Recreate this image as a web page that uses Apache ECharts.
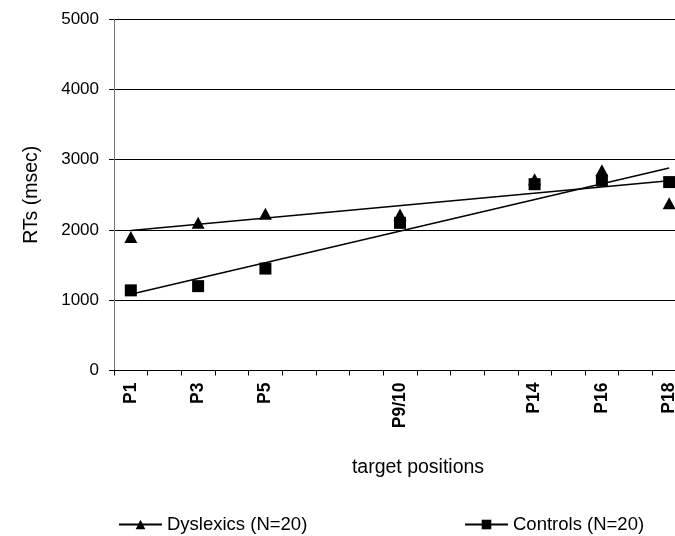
<!DOCTYPE html>
<html>
<head>
<meta charset="utf-8">
<script src="https://cdn.jsdelivr.net/npm/echarts@6/dist/echarts.min.js"></script>
<style>html,body{margin:0;padding:0;background:#fff;}#c{width:675px;height:536px;}</style>
</head>
<body>
<div id="c"></div>
<script>
var categories = ['P1','P2','P3','P4','P5','P6','P7','P8','P9/10','P11','P12','P13','P14','P15','P16','P17','P18'];
var labeledCategories = ['P1','P3','P5','P9/10','P14','P16','P18'];
var dyslexics = [1900, null, 2100, null, 2230, null, null, null, 2220, null, null, null, 2720, null, 2850, null, 2380];
var controls  = [1140, null, 1200, null, 1450, null, null, null, 2100, null, null, null, 2650, null, 2700, null, 2680];
var dyslexicsTrend = [['P1', 1990], ['P18', 2700]];
var controlsTrend  = [['P1', 1085], ['P18', 2880]];
var yTicks = [0, 1000, 2000, 3000, 4000, 5000];

var FONT = 'Liberation Sans, Arial, sans-serif';
var chart = echarts.init(document.getElementById('c'), null, {renderer: 'canvas'});
chart.setOption({
  animation: false,
  backgroundColor: '#fff',
  grid: {left: 114, top: 19, width: 572, height: 351.5, containLabel: false, outerBoundsMode: 'none'},
  legend: [
    {data: [{name: 'Dyslexics (N=20)'}], left: 113, top: 510, itemWidth: 43, itemHeight: 12, itemGap: 4,
     textStyle: {fontFamily: FONT, fontSize: 18.5, color: '#000'}, selectedMode: false,
     lineStyle: {width: 2}},
    {data: [{name: 'Controls (N=20)'}], left: 459, top: 510, itemWidth: 43, itemHeight: 12, itemGap: 4,
     textStyle: {fontFamily: FONT, fontSize: 18.5, color: '#000'}, selectedMode: false,
     lineStyle: {width: 2}}
  ],
  xAxis: {
    type: 'category',
    data: categories,
    boundaryGap: true,
    name: 'target positions',
    nameLocation: 'middle',
    nameGap: 87,
    nameTextStyle: {fontFamily: FONT, fontSize: 19.5, color: '#000', padding: [0, 0, 0, 36]},
    axisLine: {lineStyle: {color: '#000', width: 1}},
    axisTick: {show: true, interval: 0, length: 5, lineStyle: {color: '#000'}},
    axisLabel: {
      interval: function (i, v) { return labeledCategories.indexOf(v) >= 0; },
      rotate: 90, margin: 12,
      fontFamily: FONT, fontSize: 17.5, fontWeight: 'bold', color: '#000'
    },
    splitLine: {show: false}
  },
  yAxis: {
    type: 'value',
    min: yTicks[0], max: yTicks[yTicks.length - 1], interval: 1000,
    name: 'RTs (msec)',
    nameLocation: 'middle',
    nameGap: 72,
    nameRotate: 90,
    nameTextStyle: {fontFamily: FONT, fontSize: 19.5, color: '#000'},
    axisLine: {show: true, lineStyle: {color: '#777', width: 1}},
    axisTick: {show: true, length: 5, lineStyle: {color: '#000'}},
    axisLabel: {margin: 15, fontFamily: FONT, fontSize: 17, color: '#000',
      formatter: function (v) { return String(v); }},
    splitLine: {show: true, lineStyle: {color: '#000', width: 1}}
  },
  series: [
    {name: 'Dyslexics (N=20)', type: 'line', data: dyslexics, connectNulls: false,
     symbol: 'triangle', symbolSize: [13, 12], itemStyle: {color: '#000'},
     lineStyle: {color: '#000', width: 1.5}, z: 5},
    {name: 'Controls (N=20)', type: 'line', data: controls, connectNulls: false,
     symbol: 'rect', symbolSize: 12, itemStyle: {color: '#000'},
     lineStyle: {color: '#000', width: 1.5}, z: 5},
    {name: 'dysTrend', type: 'line', data: dyslexicsTrend, symbol: 'none',
     lineStyle: {color: '#000', width: 1.5}, z: 3, silent: true},
    {name: 'ctrlTrend', type: 'line', data: controlsTrend, symbol: 'none',
     lineStyle: {color: '#000', width: 1.5}, z: 3, silent: true}
  ]
});
</script>
</body>
</html>
